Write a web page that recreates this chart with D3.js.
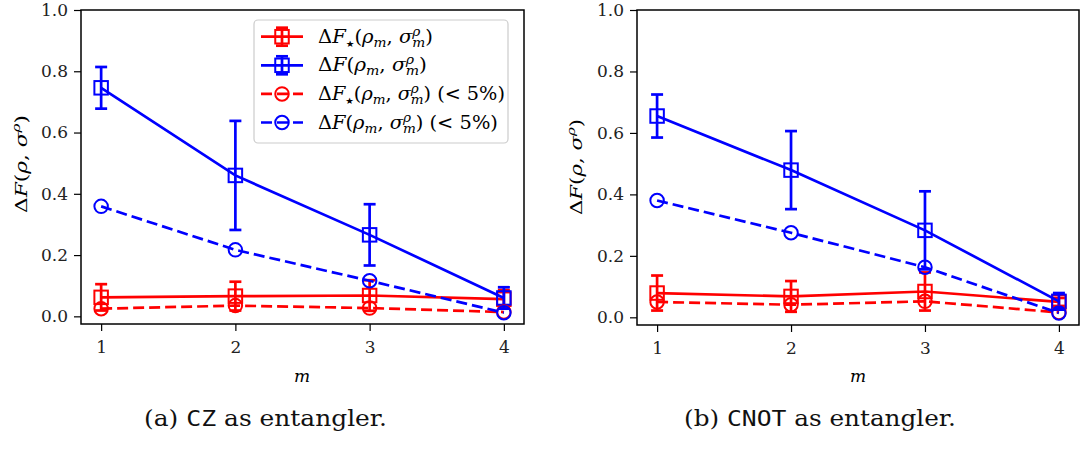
<!DOCTYPE html>
<html><head><meta charset="utf-8">
<script src="https://cdn.jsdelivr.net/npm/d3@7"></script>
<style>body{margin:0;background:#fff;} svg{display:block}</style>
</head><body>
<svg id="chart" width="1084" height="457"></svg>
<script>
// ---------- data ----------
const mValues = [1, 2, 3, 4];
const yTickValues = [0.0, 0.2, 0.4, 0.6, 0.8, 1.0];

// (a) CZ as entangler
const czStar = [0.062, 0.066, 0.068, 0.056];
const czStarErr = [0.043, 0.047, 0.050, 0.030];
const czFull = [0.746, 0.460, 0.266, 0.060];
const czFullErr = [0.068, 0.178, 0.100, 0.035];
const czStar5 = [0.025, 0.035, 0.027, 0.014];
const czFull5 = [0.359, 0.217, 0.116, 0.012];

// (b) CNOT as entangler
const cnotStar = [0.079, 0.068, 0.084, 0.050];
const cnotStarErr = [0.057, 0.050, 0.062, 0.013];
const cnotFull = [0.655, 0.479, 0.283, 0.052];
const cnotFullErr = [0.070, 0.127, 0.127, 0.027];
const cnotStar5 = [0.050, 0.041, 0.052, 0.016];
const cnotFull5 = [0.380, 0.275, 0.163, 0.014];

const captionLetters = ["(a)", "(b)"];
const gateNames = ["CZ", "CNOT"];
const captionRest = " as entangler.";

// ---------- helpers ----------
const svg = d3.select("#chart");
const SERIF = "'DejaVu Serif', serif";

function mathText(parent, parts, size) {
  const t = parent.append("text").attr("font-family", SERIF).attr("font-size", size).attr("fill", "#000");
  let cur = 0;
  parts.forEach(p => {
    const off = p.off || 0;
    const ts = t.append("tspan").text(p.t)
      .attr("font-size", size * (p.sz || 1))
      .attr("dy", off - cur);
    if (p.it) ts.attr("font-style", "italic");
    if (p.dx) ts.attr("dx", p.dx);
    if (p.ff) ts.attr("font-family", p.ff);
    cur = off;
  });
  return t;
}
function fitGroup(g, x, y, targetW, extra) {
  const w = g.node().getBBox().width;
  const s = targetW / w;
  g.attr("transform", `translate(${x},${y})` + (extra || "") + ` scale(${s},1)`);
}

const sub = (t, it) => ({ t, it, sz: 0.7, off: 4 });
const starSub = { t: "★", sz: 0.5, off: 4, ff: "'DejaVu Sans', sans-serif" };
const starLabel = [{ t: "Δ" }, { t: "F", it: true }, starSub, { t: "(", off: 0 }, { t: "ρ", it: true }, sub("m", true),
  { t: ", ", off: 0 }, { t: "σ", it: true }, { t: "ρ", it: true, sz: 0.7, off: -7 }, { t: "m", it: true, sz: 0.7, off: 4, dx: -7.5 }, { t: ")", off: 0 }];
const fullLabel = [{ t: "Δ" }, { t: "F", it: true }, { t: "(" }, { t: "ρ", it: true }, sub("m", true),
  { t: ", ", off: 0 }, { t: "σ", it: true }, { t: "ρ", it: true, sz: 0.7, off: -7 }, { t: "m", it: true, sz: 0.7, off: 4, dx: -7.5 }, { t: ")", off: 0 }];
const pct = [{ t: " (< 5%)", off: 0 }];
const legendEntries = [
  { parts: starLabel, color: "#ff0000", dashed: false, marker: "square", w: 115 },
  { parts: fullLabel, color: "#0000ff", dashed: false, marker: "square", w: 109 },
  { parts: starLabel.concat(pct), color: "#ff0000", dashed: true, marker: "circle", w: 187 },
  { parts: fullLabel.concat(pct), color: "#0000ff", dashed: true, marker: "circle", w: 180 }
];
const yLabelParts = [{ t: "Δ" }, { t: "F", it: true }, { t: "(" }, { t: "ρ", it: true }, { t: ", " }, { t: "σ", it: true },
  { t: "ρ", it: true, sz: 0.7, off: -7 }, { t: ")", off: 0 }];

const panels = [
  { left: 81, right: 524, top: 10, bottom: 324, ylabX: 21, ylabY: 164, ylabW: 98, xlabX: 302,
    capX: 144, capW: 243, legend: true,
    series: [
      { v: czStar, e: czStarErr, color: "#ff0000", dashed: false, marker: "square" },
      { v: czFull, e: czFullErr, color: "#0000ff", dashed: false, marker: "square" },
      { v: czStar5, e: null, color: "#ff0000", dashed: true, marker: "circle" },
      { v: czFull5, e: null, color: "#0000ff", dashed: true, marker: "circle" }
    ] },
  { left: 637, right: 1079, top: 10, bottom: 325, ylabX: 576, ylabY: 167, ylabW: 96, xlabX: 858,
    capX: 684, capW: 272, legend: false,
    series: [
      { v: cnotStar, e: cnotStarErr, color: "#ff0000", dashed: false, marker: "square" },
      { v: cnotFull, e: cnotFullErr, color: "#0000ff", dashed: false, marker: "square" },
      { v: cnotStar5, e: null, color: "#ff0000", dashed: true, marker: "circle" },
      { v: cnotFull5, e: null, color: "#0000ff", dashed: true, marker: "circle" }
    ] }
];

const LW = 2.7, MS = 13.5, CAP = 12, DASH = "11,5";

function drawMarker(g, kind, cx, cy, color) {
  if (kind === "square") {
    g.append("rect").attr("x", cx - MS / 2).attr("y", cy - MS / 2).attr("width", MS).attr("height", MS)
      .attr("fill", "none").attr("stroke", color).attr("stroke-width", 2);
  } else {
    g.append("circle").attr("cx", cx).attr("cy", cy).attr("r", MS / 2)
      .attr("fill", "none").attr("stroke", color).attr("stroke-width", 2);
  }
}
function drawErr(g, cx, y1, y2, color) {
  g.append("line").attr("x1", cx).attr("x2", cx).attr("y1", y1).attr("y2", y2).attr("stroke", color).attr("stroke-width", LW);
  [y1, y2].forEach(yy => g.append("line").attr("x1", cx - CAP / 2).attr("x2", cx + CAP / 2).attr("y1", yy).attr("y2", yy)
    .attr("stroke", color).attr("stroke-width", LW));
}

panels.forEach((P, pi) => {
  const x = d3.scaleLinear().domain([0.85, 4.15]).range([P.left, P.right]);
  const y = d3.scaleLinear().domain([-0.025, 1.0]).range([P.bottom, P.top]);
  const g = svg.append("g");

  // axes
  const ya = g.append("g").attr("transform", `translate(${P.left},0)`)
    .call(d3.axisLeft(y).tickValues(yTickValues).tickFormat(d3.format(".1f")).tickSize(7).tickPadding(6));
  const xa = g.append("g").attr("transform", `translate(0,${P.bottom})`)
    .call(d3.axisBottom(x).tickValues(mValues).tickFormat(d3.format("d")).tickSize(7).tickPadding(10));
  [ya, xa].forEach(a => {
    a.select(".domain").remove();
    a.selectAll(".tick line").attr("stroke", "#000").attr("stroke-width", 1.2);
    a.selectAll(".tick text").attr("font-family", SERIF).attr("font-size", 17).attr("fill", "#222");
  });

  // series
  const sg = g.append("g");
  P.series.forEach(s => {
    const pts = mValues.map((m, i) => ({ m, v: s.v[i], e: s.e ? s.e[i] : 0 }));
    const line = d3.line().x(d => x(d.m)).y(d => y(d.v));
    sg.append("path").attr("d", line(pts)).attr("fill", "none").attr("stroke", s.color)
      .attr("stroke-width", LW).attr("stroke-dasharray", s.dashed ? DASH : null);
    if (s.e) pts.forEach(d => drawErr(sg, x(d.m), y(d.v + d.e), y(d.v - d.e), s.color));
    pts.forEach(d => drawMarker(sg, s.marker, x(d.m), y(d.v), s.color));
  });

  // frame
  g.append("rect").attr("x", P.left).attr("y", P.top).attr("width", P.right - P.left).attr("height", P.bottom - P.top)
    .attr("fill", "none").attr("stroke", "#000").attr("stroke-width", 1.5);

  // y label
  const yl = g.append("g");
  mathText(yl, yLabelParts, 17).attr("text-anchor", "middle");
  const w0 = yl.node().getBBox().width;
  yl.attr("transform", `translate(${P.ylabX + 6},${P.ylabY}) rotate(-90) scale(${P.ylabW / w0},1)`);

  // x label
  g.append("text").attr("x", P.xlabX).attr("y", 382).attr("text-anchor", "middle")
    .attr("font-family", SERIF).attr("font-style", "italic").attr("font-size", 17).text("m");

  // caption
  const cg = g.append("g");
  const ct = cg.append("text").attr("font-family", SERIF).attr("font-size", 22).attr("fill", "#111");
  ct.append("tspan").text(captionLetters[pi] + " ");
  ct.append("tspan").attr("font-family", "'DejaVu Sans Mono', 'Liberation Mono', monospace").text(gateNames[pi]);
  ct.append("tspan").text(captionRest);
  fitGroup(cg, P.capX, 426, P.capW);

  // legend
  if (P.legend) {
    const lg = g.append("g");
    lg.append("rect").attr("x", 254).attr("y", 20).attr("width", 254).attr("height", 123).attr("rx", 4)
      .attr("fill", "#fff").attr("fill-opacity", 0.8).attr("stroke", "#cccccc").attr("stroke-width", 1.2);
    legendEntries.forEach((L, i) => {
      const cy = 36.7 + i * 28.6;
      lg.append("line").attr("x1", 261).attr("x2", 303).attr("y1", cy).attr("y2", cy)
        .attr("stroke", L.color).attr("stroke-width", LW).attr("stroke-dasharray", L.dashed ? DASH : null);
      if (!L.dashed) drawErr(lg, 282, cy - 9, cy + 9, L.color);
      drawMarker(lg, L.marker, 282, cy, L.color);
      const tg = lg.append("g");
      mathText(tg, L.parts, 18);
      fitGroup(tg, 318, cy + 6, L.w);
    });
  }
});
</script>
</body></html>
